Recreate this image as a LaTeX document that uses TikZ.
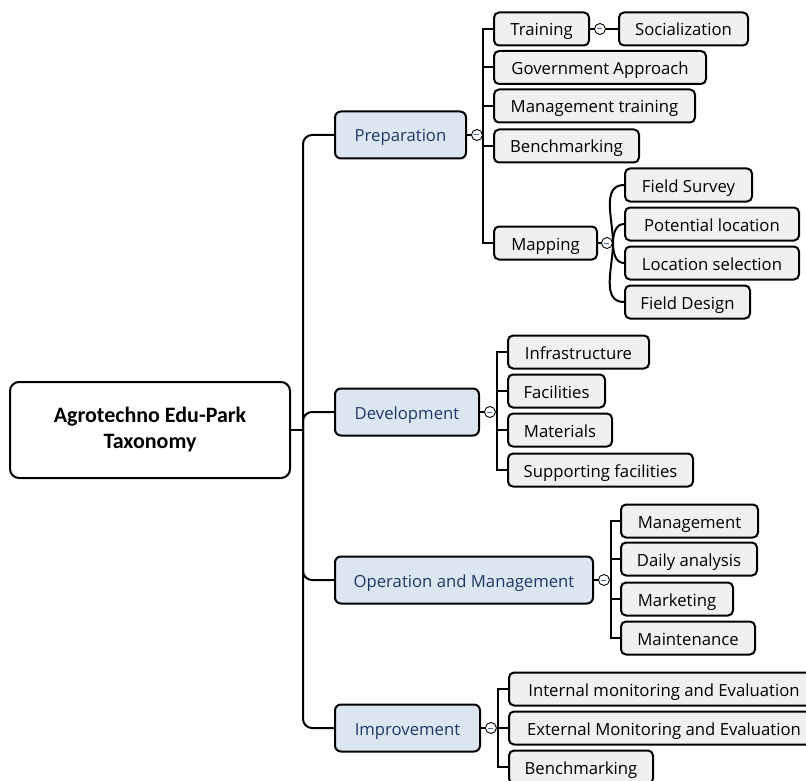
\documentclass[tikz,border=0pt]{standalone}
\usepackage{fontspec}
\setmainfont{Open Sans}
\newfontfamily\rootfont{Carlito}
\usetikzlibrary{positioning}
\definecolor{branchfill}{HTML}{DCE6F1}
\definecolor{branchtext}{HTML}{1F3868}
\definecolor{leaffill}{HTML}{F0F0F0}
\definecolor{togglemark}{HTML}{4A6FA5}

\begin{document}
\begin{tikzpicture}[
    x=1pt, y=-1pt,
    every node/.style={font=\fontsize{16.7}{20}\selectfont},
    rootbox/.style={draw, line width=2pt, rounded corners=9pt, fill=white, align=center, minimum width=280, minimum height=96, font=\rootfont\bfseries\fontsize{22}{26}\selectfont},
    branch/.style={draw, line width=2pt, rounded corners=6pt, fill=branchfill, text=branchtext, anchor=west, minimum height=47, text height=15pt, text depth=1pt},
    leaf/.style={draw, line width=2pt, rounded corners=5pt, fill=leaffill, anchor=west, minimum height=33, text height=15pt, text depth=1pt},
    toggle/.style={circle, draw, line width=0.9pt, fill=white, minimum size=11pt, inner sep=0pt,
        path picture={\draw[togglemark, line width=1pt] ([xshift=-2.5pt]path picture bounding box.center) -- ([xshift=2.5pt]path picture bounding box.center);}},
    link/.style={line width=2pt, rounded corners=9pt},
    stub/.style={line width=2pt},
]
\clip (0,0) rectangle (806,781);

% root and main branches
\node[rootbox] (root) at (150,430) {Agrotechno Edu-Park\\Taxonomy};
\coordinate (hub) at (303,430);
\node[branch, minimum width=131] (prep) at (334,135) {Preparation};
\node[branch, minimum width=144] (dev) at (334,412) {Development};
\node[branch, minimum width=258] (ops) at (334,580) {Operation and Management};
\node[branch, minimum width=145] (imp) at (334,728) {Improvement};

\draw[stub] (root.east) -- (hub);
\foreach \b in {prep, dev, ops, imp}
    \draw[link] (hub) |- (\b.west);

% Preparation
\node[toggle, right=4pt of prep] (tgprep) {};
\coordinate (busprep) at (483,135);
\node[leaf, minimum width=95] (train) at (493,29) {Training};
\node[leaf, minimum width=212] (gov) at (493,67.5) {Government Approach};
\node[leaf, minimum width=201] (mgt) at (493,106) {Management training};
\node[leaf, minimum width=145] (bench) at (493,146) {Benchmarking};
\node[leaf, minimum width=103] (map) at (493,243) {Mapping};
\draw[stub] (prep.east) -- (tgprep) -- (busprep);
\foreach \c in {train, gov, mgt, bench, map}
    \draw[stub] (busprep) |- (\c.west);

\node[toggle, right=4pt of train] (tgtrain) {};
\node[leaf, minimum width=129] (social) at (618,29) {Socialization};
\draw[stub] (train.east) -- (tgtrain) -- (social.west);

\node[toggle, right=3pt of map] (tgmap) {};
\coordinate (forkmap) at (613,243);
\node[leaf, minimum width=127] (survey) at (624,185) {Field Survey};
\node[leaf, minimum width=174] (potential) at (624,224) {Potential location};
\node[leaf, minimum width=174] (select) at (624,263) {Location selection};
\node[leaf, minimum width=125] (design) at (624,302) {Field Design};
\draw[stub] (map.east) -- (tgmap) -- (forkmap);
\draw[stub] (forkmap) to[out=90, in=180] (survey.west);
\draw[stub] (forkmap) to[out=90, in=180] (potential.west);
\draw[stub] (forkmap) to[out=-90, in=180] (select.west);
\draw[stub] (forkmap) to[out=-90, in=180] (design.west);

% Development
\node[toggle, right=4pt of dev] (tgdev) {};
\coordinate (busdev) at (497,412);
\node[leaf, minimum width=141] (infra) at (507,352) {Infrastructure};
\node[leaf, minimum width=97] (facil) at (507,391) {Facilities};
\node[leaf, minimum width=104] (mater) at (507,430) {Materials};
\node[leaf, minimum width=185] (support) at (507,470) {Supporting facilities};
\draw[stub] (dev.east) -- (tgdev) -- (busdev);
\foreach \c in {infra, facil, mater, support}
    \draw[stub] (busdev) |- (\c.west);

% Operation and Management
\node[toggle, right=4pt of ops] (tgops) {};
\coordinate (busops) at (611,580);
\node[leaf, minimum width=137] (manage) at (620,521) {Management};
\node[leaf, minimum width=136] (daily) at (620,559) {Daily analysis};
\node[leaf, minimum width=112] (market) at (620,599) {Marketing};
\node[leaf, minimum width=134] (maint) at (620,638) {Maintenance};
\draw[stub] (ops.east) -- (tgops) -- (busops);
\foreach \c in {manage, daily, market, maint}
    \draw[stub] (busops) |- (\c.west);

% Improvement
\node[toggle, right=4pt of imp] (tgimp) {};
\coordinate (busimp) at (498,728);
\node[leaf, minimum width=310] (internal) at (508,689) {Internal monitoring and Evaluation};
\node[leaf, minimum width=310] (external) at (508,728) {External Monitoring and Evaluation};
\node[leaf, minimum width=144] (bench2) at (508,767) {Benchmarking};
\draw[stub] (imp.east) -- (tgimp) -- (busimp);
\foreach \c in {internal, external, bench2}
    \draw[stub] (busimp) |- (\c.west);
\end{tikzpicture}
\end{document}
